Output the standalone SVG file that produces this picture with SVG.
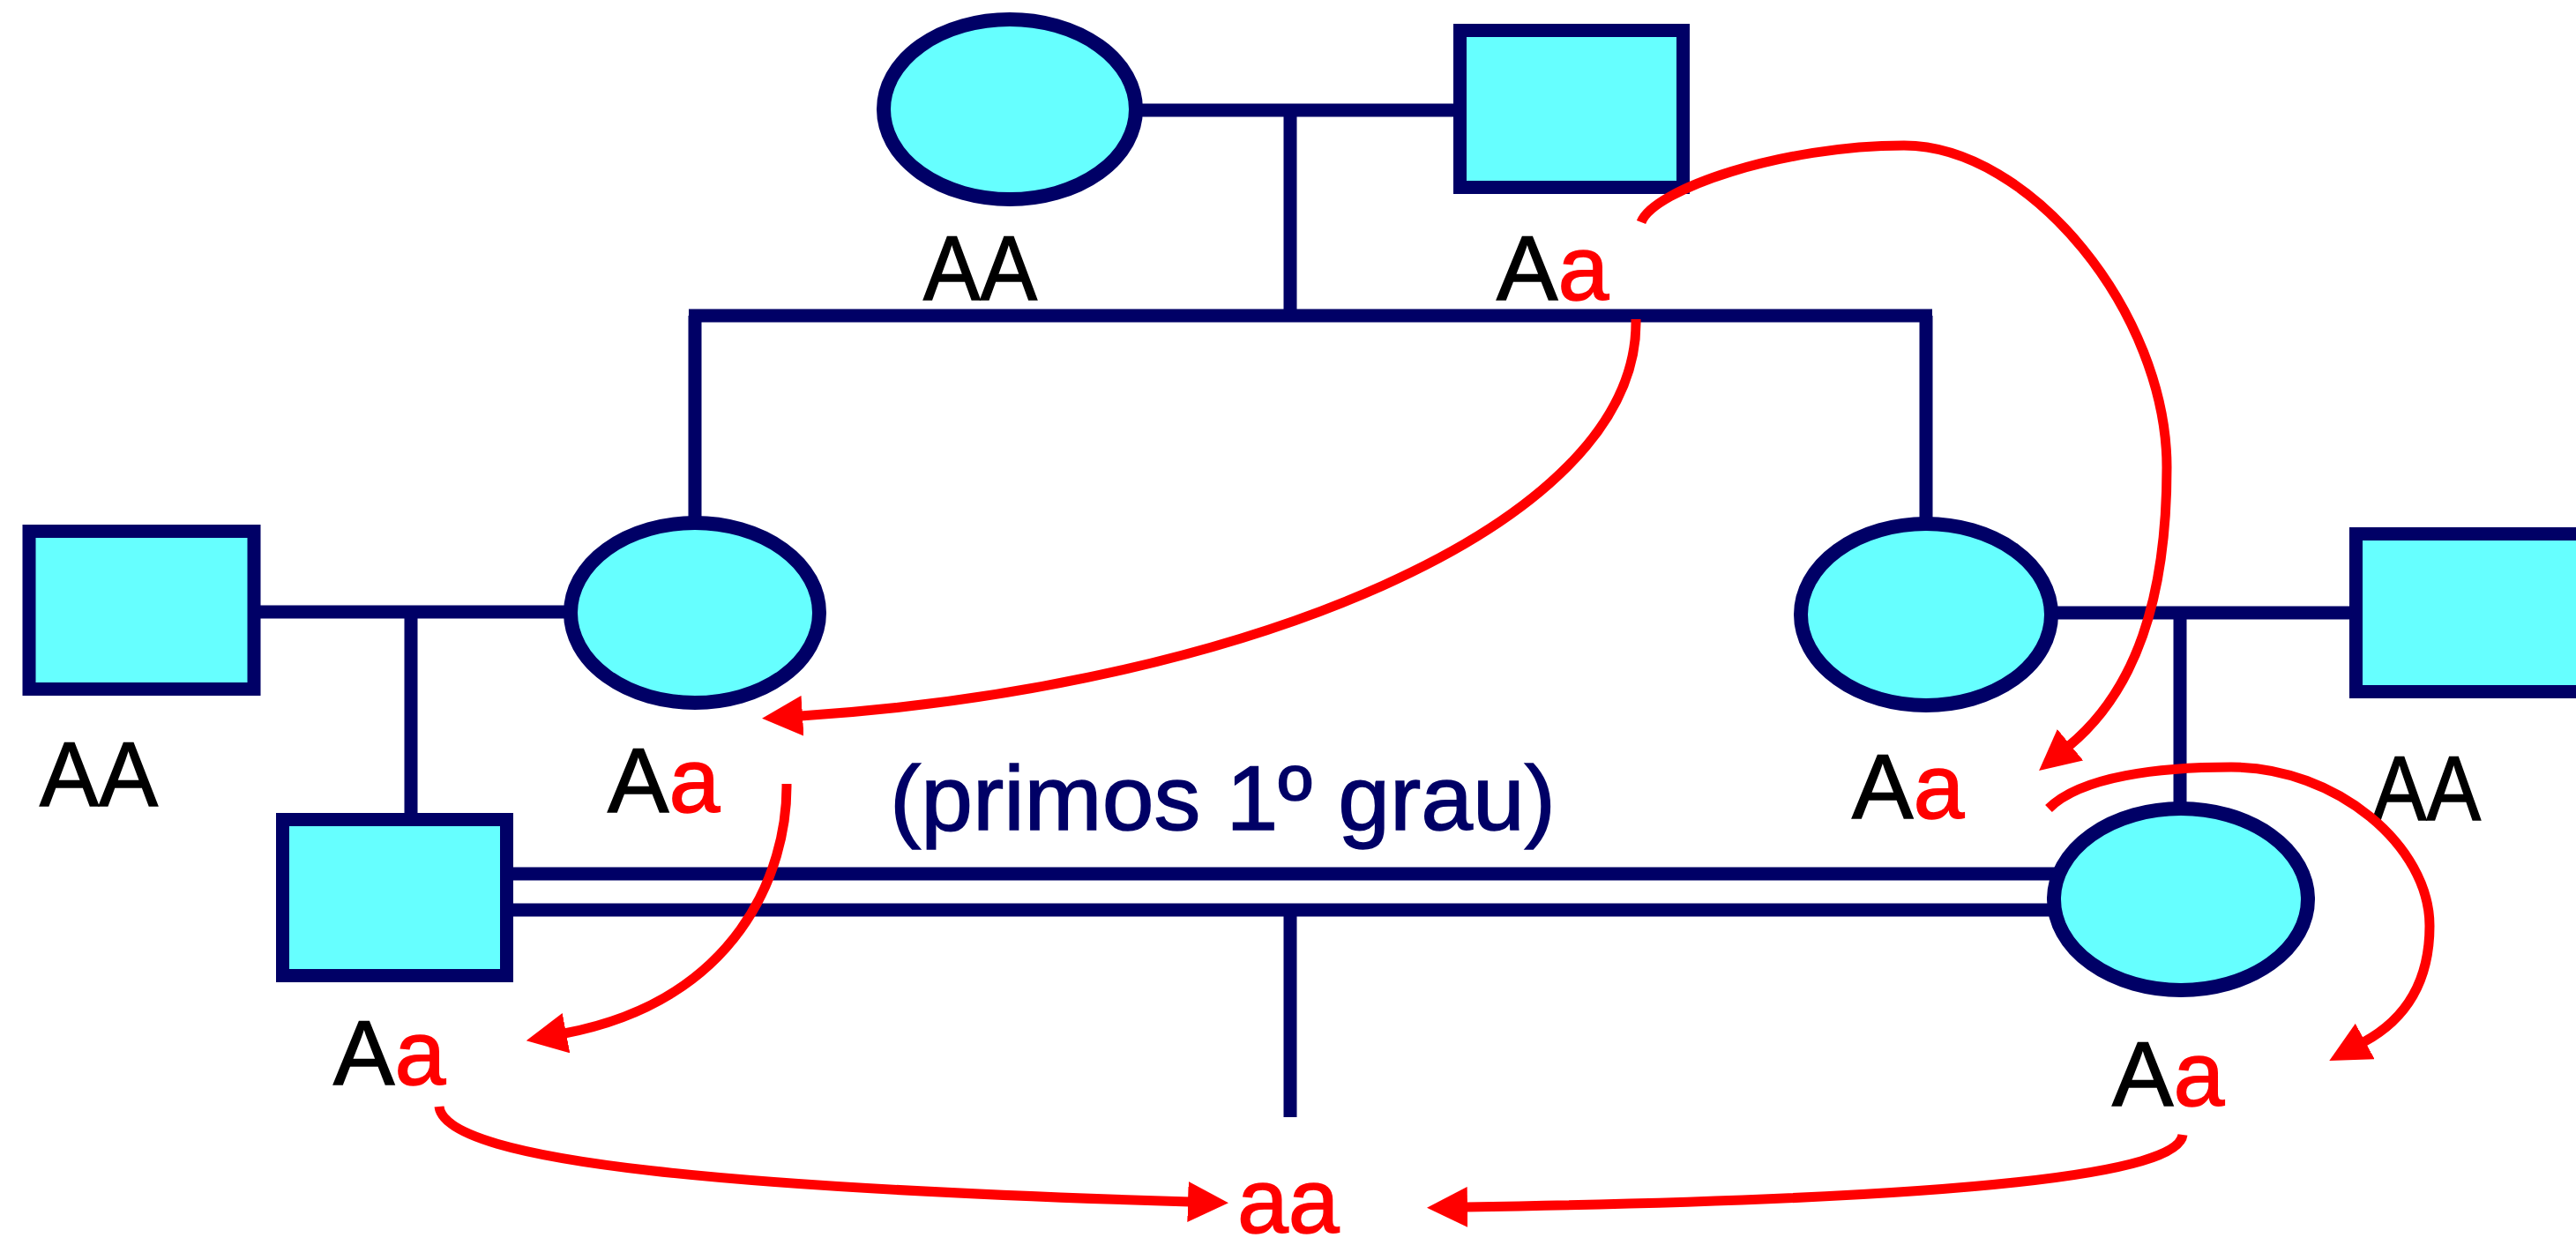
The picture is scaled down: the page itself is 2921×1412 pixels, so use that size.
<svg xmlns="http://www.w3.org/2000/svg" width="2921" height="1412" viewBox="0 0 2921 1412">
  <style>
    .line { stroke: #000066; stroke-width: 15; fill: none; }
    .female { fill: #66FFFF; stroke: #000066; stroke-width: 16; }
    .male { fill: #66FFFF; stroke: #000066; stroke-width: 15; }
    .label { font-family: "Liberation Sans", Arial, sans-serif; font-size: 104px; fill: #000000; stroke: #000000; stroke-width: 1.5; }
    .allele { fill: #FF0000; stroke: #FF0000; }
    .note { font-family: "Liberation Sans", Arial, sans-serif; font-size: 104px; fill: #000066; stroke: #000066; stroke-width: 1.5; }
    .arrow { stroke: #FF0000; stroke-width: 11; fill: none; marker-end: url(#head); }
  </style>
  <defs>
    <marker id="head" markerUnits="userSpaceOnUse" viewBox="0 0 46 46" markerWidth="46" markerHeight="46" refX="2" refY="23" orient="auto">
      <path d="M0,0 L46,23 L0,46 z" fill="#FF0000"/>
    </marker>
  </defs>
  <rect width="2921" height="1412" fill="#FFFFFF"/>

  <!-- marriage and descent lines -->
  <g id="connectors">
    <line class="line" x1="1288" y1="125" x2="1656" y2="125"/>
    <line class="line" x1="1463" y1="125" x2="1463" y2="358"/>
    <line class="line" x1="781" y1="358" x2="2191" y2="358"/>
    <line class="line" x1="788" y1="358" x2="788" y2="595"/>
    <line class="line" x1="2184" y1="358" x2="2184" y2="597"/>
    <line class="line" x1="288" y1="694" x2="650" y2="694"/>
    <line class="line" x1="466" y1="694" x2="466" y2="930"/>
    <line class="line" x1="2322" y1="695" x2="2672" y2="695"/>
    <line class="line" x1="2472" y1="695" x2="2472" y2="918"/>
    <!-- consanguineous union (double line) -->
    <line class="line" x1="575" y1="991" x2="2335" y2="991"/>
    <line class="line" x1="575" y1="1032" x2="2335" y2="1032"/>
    <line class="line" x1="1463" y1="1032" x2="1463" y2="1267"/>
  </g>

  <g id="grandmother">
    <ellipse class="female" cx="1145" cy="124" rx="143" ry="102"/>
    <text class="label" x="1047" y="340" textLength="129" lengthAdjust="spacingAndGlyphs">AA</text>
  </g>
  <g id="grandfather">
    <rect class="male" x="1655.5" y="34.5" width="253" height="178"/>
    <text class="label" x="1697" y="340">A<tspan class="allele">a</tspan></text>
  </g>
  <g id="uncle-in-law-left">
    <rect class="male" x="33" y="602.5" width="255" height="179"/>
    <text class="label" x="45" y="914" textLength="134" lengthAdjust="spacingAndGlyphs">AA</text>
  </g>
  <g id="daughter-left">
    <ellipse class="female" cx="788" cy="695" rx="141" ry="102"/>
    <text class="label" x="689" y="921">A<tspan class="allele">a</tspan></text>
  </g>
  <g id="daughter-right">
    <ellipse class="female" cx="2184" cy="697" rx="142" ry="103"/>
    <text class="label" x="2100" y="928">A<tspan class="allele">a</tspan></text>
  </g>
  <g id="uncle-in-law-right">
    <rect class="male" x="2671.5" y="605.5" width="262" height="179"/>
    <text class="label" x="2690" y="930" textLength="123" lengthAdjust="spacingAndGlyphs">AA</text>
  </g>
  <g id="cousin-male">
    <rect class="male" x="320.5" y="929.5" width="254" height="177"/>
    <text class="label" x="378" y="1230">A<tspan class="allele">a</tspan></text>
  </g>
  <g id="cousin-female">
    <ellipse class="female" cx="2473" cy="1020" rx="144" ry="103"/>
    <text class="label" x="2395" y="1254">A<tspan class="allele">a</tspan></text>
  </g>
  <g id="child">
    <text class="label allele" x="1403" y="1398">aa</text>
  </g>
  <g id="cousins-note">
    <text class="note" x="1009" y="941" textLength="755" lengthAdjust="spacingAndGlyphs">(primos 1º grau)</text>
  </g>

  <!-- transmission of the recessive allele -->
  <g id="allele-arrows">
    <path class="arrow" d="M1861,252 C1875,215 2020,165 2159,165 C2302,165 2457,355 2457,530 C2457,680 2421,784 2346,846"/>
    <path class="arrow" d="M1855,362 C1860,600 1400,780 908,812"/>
    <path class="arrow" d="M892,889 C893,990 835,1135 640,1172"/>
    <path class="arrow" d="M2323,917 C2360,880 2450,870 2530,870 C2650,870 2755,960 2755,1050 C2755,1110 2730,1155 2680,1182"/>
    <path class="arrow" d="M498,1255 C505,1320 850,1348 1349,1363"/>
    <path class="arrow" d="M2475,1287 C2470,1330 2250,1360 1662,1369"/>
  </g>
</svg>
